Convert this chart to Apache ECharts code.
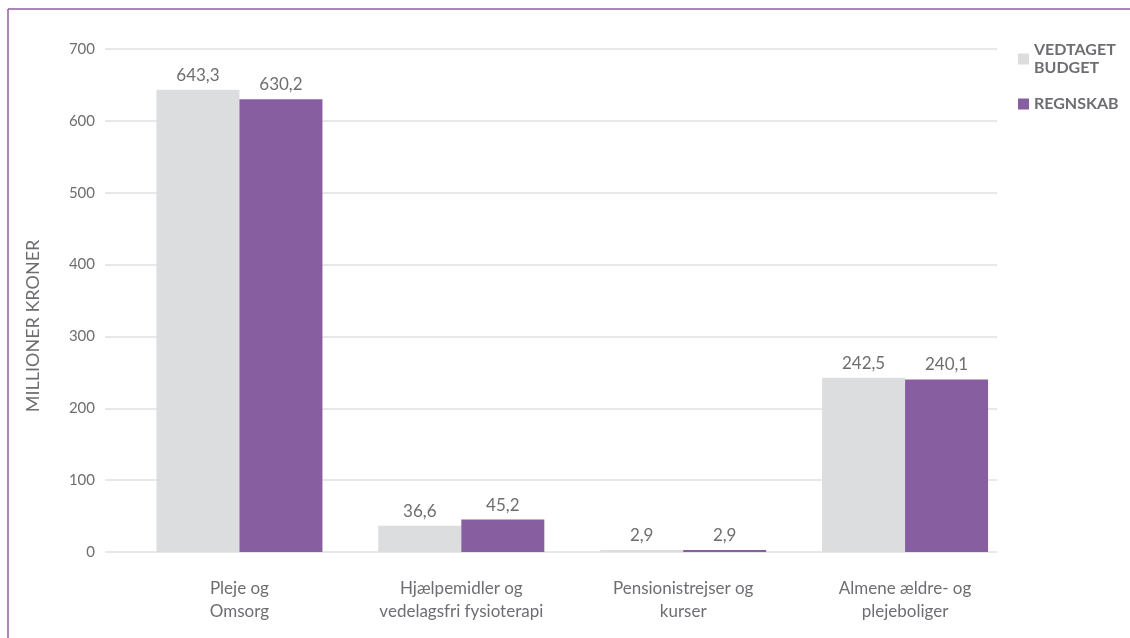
<!DOCTYPE html>
<html>
<head>
<meta charset="utf-8">
<script src="https://cdn.jsdelivr.net/npm/echarts@6/dist/echarts.min.js"></script>
<style>
html,body{margin:0;padding:0;background:#fff;}
#chart{width:1130px;height:638px;}
</style>
</head>
<body>
<div id="chart"></div>
<script>
const categories = ['Pleje og\nOmsorg', 'Hjælpemidler og\nvedelagsfri fysioterapi', 'Pensionistrejser og\nkurser', 'Almene ældre- og\nplejeboliger'];
const budgetValues = [643.3, 36.6, 2.9, 242.5];
const regnskabValues = [630.2, 45.2, 2.9, 240.1];
const seriesNames = ['VEDTAGET\nBUDGET', 'REGNSKAB'];
const yTicks = { min: 0, max: 700, interval: 100 };
const axisTitle = 'MILLIONER KRONER';

const FONT = 'Lato, "Open Sans", sans-serif';
const TXT = '#6d6e71';
const GRAY = '#dcdddf';
const PURPLE = '#875ea0';
const fmt = p => p.value.toFixed(1).replace('.', ',');

const chart = echarts.init(document.getElementById('chart'));
chart.setOption({
  animation: false,
  textStyle: { fontFamily: FONT, color: TXT },
  grid: [
    { left: 105, right: 133, top: 49, bottom: 86 },
    { left: 128.5, right: 114, top: 49, bottom: 86 }
  ],
  legend: {
    orient: 'vertical',
    left: 1013, top: 36,
    itemWidth: 11, itemHeight: 11, itemGap: 18,
    icon: 'rect',
    textStyle: { fontFamily: FONT, fontSize: 16, fontWeight: 'bold', color: TXT, lineHeight: 18 },
    data: seriesNames
  },
  xAxis: [
    { type: 'category', gridIndex: 0, data: categories, show: false },
    { type: 'category', gridIndex: 1, data: categories,
      axisLine: { show: false }, axisTick: { show: false },
      axisLabel: { fontFamily: FONT, fontSize: 17, color: TXT, lineHeight: 23, margin: 25, interval: 0 } }
  ],
  yAxis: [
    { type: 'value', gridIndex: 0, min: yTicks.min, max: yTicks.max, interval: yTicks.interval,
      axisLine: { show: false }, axisTick: { show: false },
      axisLabel: { fontFamily: FONT, fontSize: 15, color: TXT, margin: 10 },
      splitLine: { lineStyle: { color: '#e1e1e1', width: 1.5 } } },
    { type: 'value', gridIndex: 1, min: yTicks.min, max: yTicks.max, interval: yTicks.interval, show: false,
      splitLine: { show: false } }
  ],
  series: [
    { name: seriesNames[0], type: 'bar', xAxisIndex: 1, yAxisIndex: 1, data: budgetValues,
      barWidth: 83, barGap: '0%', itemStyle: { color: GRAY },
      label: { show: true, position: 'top', distance: 6, formatter: fmt, fontFamily: FONT, fontSize: 17, color: TXT } },
    { name: seriesNames[1], type: 'bar', xAxisIndex: 1, yAxisIndex: 1, data: regnskabValues,
      barWidth: 83, barGap: '0%', itemStyle: { color: PURPLE },
      label: { show: true, position: 'top', distance: 6, formatter: fmt, fontFamily: FONT, fontSize: 17, color: TXT } }
  ],
  graphic: [
    { type: 'line', shape: { x1: 8, y1: 9, x2: 1130, y2: 9 }, style: { stroke: '#8c5ea6', lineWidth: 1.5 } },
    { type: 'line', shape: { x1: 8, y1: 9, x2: 8, y2: 638 }, style: { stroke: '#8c5ea6', lineWidth: 1.5 } },
    { type: 'text', x: 33, y: 326, rotation: Math.PI / 2,
      style: { text: axisTitle, fontFamily: FONT, fontSize: 18, fill: TXT, align: 'center', verticalAlign: 'middle' } }
  ]
});
</script>
</body>
</html>
